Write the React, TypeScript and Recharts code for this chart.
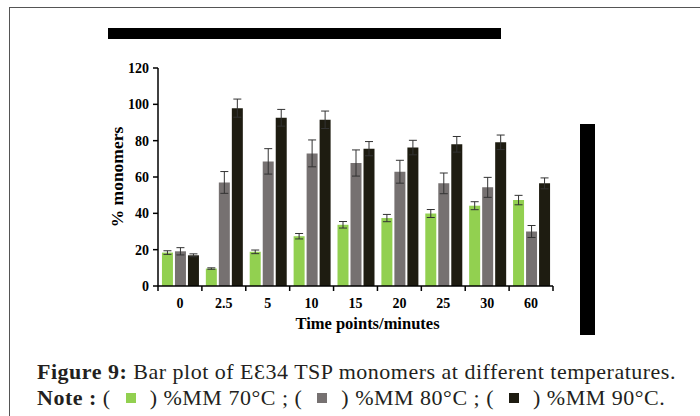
import React from 'react';
import { BarChart, Bar, XAxis, YAxis, ErrorBar } from 'recharts';

const timePoints = ['0', '2.5', '5', '10', '15', '20', '25', '30', '60'];
const mm70 = [18.4, 9.6, 18.8, 27.4, 33.7, 37.4, 39.9, 44.2, 47.3];
const mm70Err = [1.0, 0.4, 1.0, 1.5, 1.8, 2.0, 2.2, 2.2, 2.6];
const mm80 = [19.1, 57.0, 68.6, 73.0, 67.7, 62.9, 56.5, 54.3, 30.0];
const mm80Err = [2.0, 6.0, 7.0, 7.4, 7.2, 6.3, 5.7, 5.5, 3.3];
const mm90 = [16.9, 97.9, 92.6, 91.5, 75.6, 76.2, 78.0, 79.1, 56.5];
const mm90Err = [0.8, 5.0, 4.6, 4.8, 3.9, 4.0, 4.3, 4.0, 3.0];
const yTicks = [0, 20, 40, 60, 80, 100, 120];

const data = timePoints.map((t, i) => ({
  t,
  mm70: mm70[i],
  e70: mm70Err[i],
  mm80: mm80[i],
  e80: mm80Err[i],
  mm90: mm90[i],
  e90: mm90Err[i],
}));

const GREEN = '#92D050';
const GRAY = '#767171';
const DARK = '#1E1C11';
const serif = '"Liberation Serif", "Times New Roman", serif';

const CHART_W = 700;
const MARGIN = { top: 68, right: 147, left: 98, bottom: 10 };
const Y_W = 60;
const BAND = (CHART_W - MARGIN.left - MARGIN.right - Y_W) / timePoints.length;

const XTick = (props: any) => {
  const { x, y, payload, index } = props;
  const left = x - BAND / 2;
  return (
    <g>
      <line x1={left} x2={left} y1={y - 8} y2={y - 3} stroke="#000" strokeWidth={1.5} />
      {index === timePoints.length - 1 && (
        <line x1={left + BAND} x2={left + BAND} y1={y - 8} y2={y - 3} stroke="#000" strokeWidth={1.5} />
      )}
      <text
        x={x}
        y={y + 14}
        textAnchor="middle"
        style={{ fontFamily: serif, fontWeight: 'bold', fontSize: 14, fill: '#000' }}
      >
        {payload.value}
      </text>
    </g>
  );
};

const Swatch = ({ color }: { color: string }) => (
  <span
    style={{
      display: 'inline-block',
      width: 10,
      height: 10,
      background: color,
      margin: '0 14px 3px 15px',
      verticalAlign: 'middle',
    }}
  />
);

export default function App() {
  return (
    <div
      style={{
        position: 'absolute',
        left: 0,
        top: 0,
        width: 700,
        height: 416,
        background: '#fff',
        overflow: 'hidden',
      }}
    >
      <div
        style={{
          position: 'absolute',
          left: 9,
          top: 7,
          width: 700,
          height: 420,
          borderTop: '1.5px solid #555',
          borderLeft: '1.5px solid #555',
        }}
      />
      <div style={{ position: 'absolute', left: 108, top: 28, width: 393, height: 11, background: '#000' }} />
      <div style={{ position: 'absolute', left: 580, top: 124, width: 15, height: 211, background: '#000' }} />

      <div style={{ position: 'absolute', left: 0, top: 0 }}>
        <BarChart
          width={CHART_W}
          height={340}
          data={data}
          margin={MARGIN}
          barCategoryGap="9%"
          barGap={2}
        >
          <XAxis
            dataKey="t"
            axisLine={{ stroke: '#000', strokeWidth: 1.5 }}
            tickLine={false}
            tick={<XTick />}
            interval={0}
            height={44}
            label={{
              value: 'Time points/minutes',
              position: 'insideBottom',
              offset: 1,
              dx: 12,
              style: { fontFamily: serif, fontWeight: 'bold', fontSize: 16.5, fill: '#000' },
            }}
          />
          <YAxis
            width={Y_W}
            domain={[0, 120]}
            ticks={yTicks}
            interval={0}
            axisLine={{ stroke: '#000', strokeWidth: 1.5 }}
            tickLine={{ stroke: '#000', strokeWidth: 1.5 }}
            tickSize={5}
            tickMargin={4}
            tick={{ fontSize: 14, fill: '#000', style: { fontFamily: serif, fontWeight: 'bold' } }}
            label={{
              value: '% monomers',
              angle: -90,
              position: 'insideLeft',
              offset: 19,
              style: { fontFamily: serif, fontWeight: 'bold', fontSize: 17.5, fill: '#000', textAnchor: 'middle' },
            }}
          />
          <Bar dataKey="mm70" fill={GREEN} isAnimationActive={false}>
            <ErrorBar dataKey="e70" width={4} stroke="#333" strokeWidth={1} />
          </Bar>
          <Bar dataKey="mm80" fill={GRAY} isAnimationActive={false}>
            <ErrorBar dataKey="e80" width={4} stroke="#333" strokeWidth={1} />
          </Bar>
          <Bar dataKey="mm90" fill={DARK} isAnimationActive={false}>
            <ErrorBar dataKey="e90" width={4} stroke="#333" strokeWidth={1} />
          </Bar>
        </BarChart>
      </div>

      <div
        style={{
          position: 'absolute',
          left: 37,
          top: 359,
          fontFamily: serif,
          fontSize: 22,
          letterSpacing: 0.5,
          lineHeight: '26px',
          color: '#231F20',
          whiteSpace: 'nowrap',
        }}
      >
        <div>
          <b>Figure 9:</b> Bar plot of EƐ34 TSP monomers at different temperatures.
        </div>
        <div>
          <b>Note :</b> (<Swatch color={GREEN} />) %MM 70°C ; (<Swatch color={GRAY} />) %MM 80°C ; (
          <Swatch color={DARK} />) %MM 90°C.
        </div>
      </div>
    </div>
  );
}
